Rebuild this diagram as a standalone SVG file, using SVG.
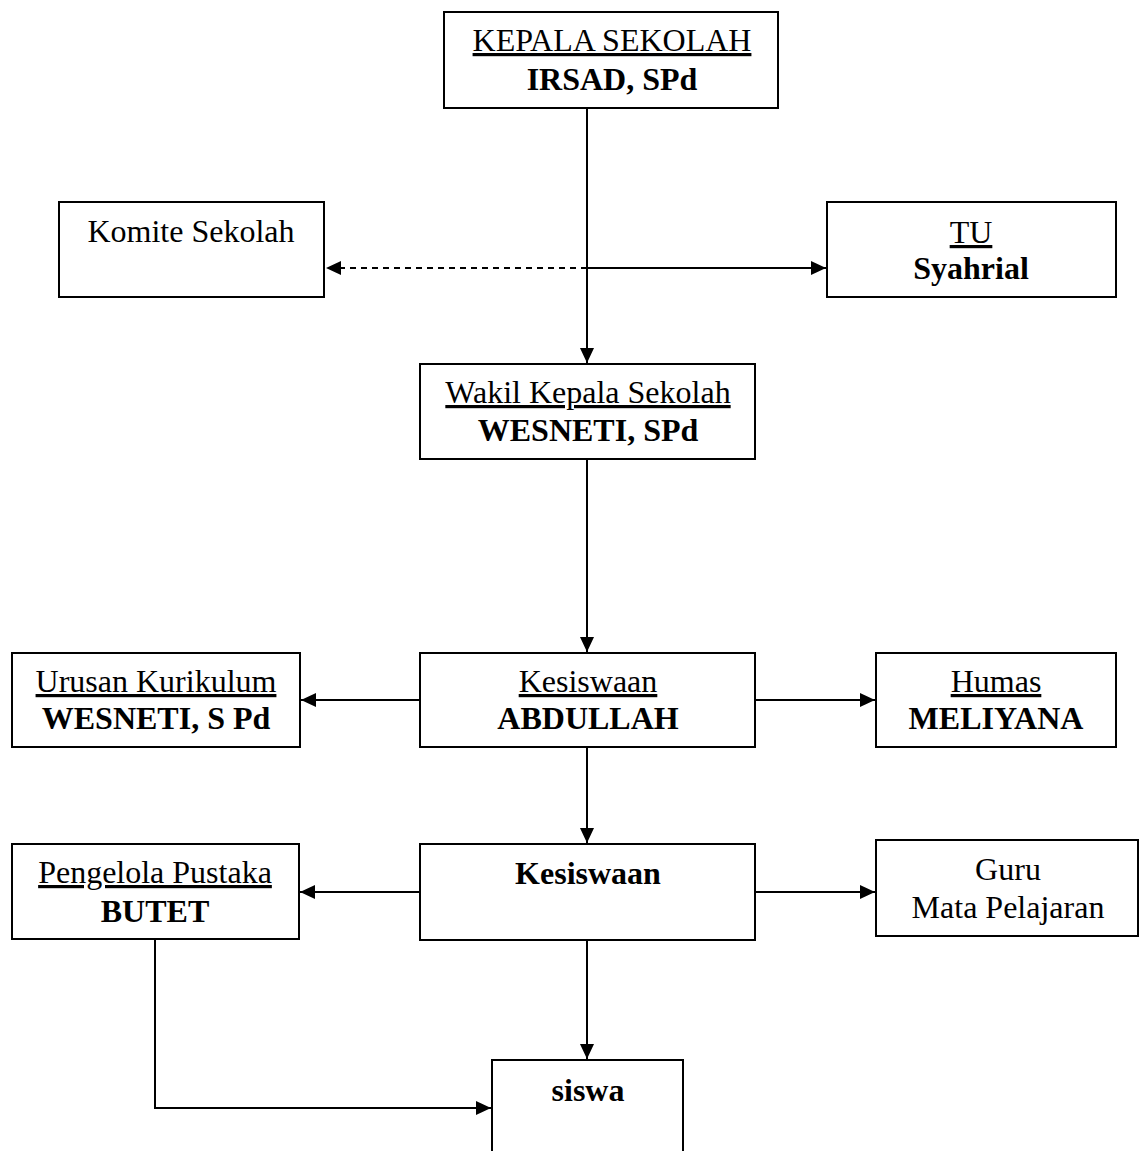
<svg xmlns="http://www.w3.org/2000/svg" width="1140" height="1151" viewBox="0 0 1140 1151">
<style>
.box{fill:#fff;stroke:#000;stroke-width:2}
text{font-family:"Liberation Serif","Times New Roman",serif;font-size:32px;fill:#000;text-anchor:middle}
.u{text-decoration:underline}
.b{font-weight:bold}
.c{fill:none;stroke:#000;stroke-width:2}
.d{stroke-dasharray:6,5}
</style>
<defs>
<marker id="ah" markerUnits="userSpaceOnUse" markerWidth="16" markerHeight="16" refX="15" refY="7" orient="auto">
<path d="M0,0 L15,7 L0,14 z" fill="#000"/>
</marker>
</defs>
<rect width="1140" height="1151" fill="#fff"/>
<g id="connectors">
<path class="c" d="M587,108 V363" marker-end="url(#ah)"/>
<path class="c d" d="M587,268 H326" marker-end="url(#ah)"/>
<path class="c" d="M587,268 H826" marker-end="url(#ah)"/>
<path class="c" d="M587,459 V652" marker-end="url(#ah)"/>
<path class="c" d="M420,700 H301" marker-end="url(#ah)"/>
<path class="c" d="M755,700 H875" marker-end="url(#ah)"/>
<path class="c" d="M587,747 V843" marker-end="url(#ah)"/>
<path class="c" d="M420,892 H300" marker-end="url(#ah)"/>
<path class="c" d="M755,892 H875" marker-end="url(#ah)"/>
<path class="c" d="M587,940 V1059" marker-end="url(#ah)"/>
<path class="c" d="M155,939 V1108 H491" marker-end="url(#ah)"/>
</g>
<g id="kepala">
<rect class="box" x="444" y="12" width="334" height="96"/>
<text class="u" x="612" y="51">KEPALA SEKOLAH</text>
<text class="b" x="612" y="90">IRSAD, SPd</text>
</g>
<g id="komite">
<rect class="box" x="59" y="202" width="265" height="95"/>
<text x="191" y="242">Komite Sekolah</text>
</g>
<g id="tu">
<rect class="box" x="827" y="202" width="289" height="95"/>
<text class="u" x="971" y="243">TU</text>
<text class="b" x="971" y="279">Syahrial</text>
</g>
<g id="wakil">
<rect class="box" x="420" y="364" width="335" height="95"/>
<text class="u" x="588" y="403">Wakil Kepala Sekolah</text>
<text class="b" x="588" y="441">WESNETI, SPd</text>
</g>
<g id="kesiswaan1">
<rect class="box" x="420" y="653" width="335" height="94"/>
<text class="u" x="588" y="692">Kesiswaan</text>
<text class="b" x="588" y="729">ABDULLAH</text>
</g>
<g id="urusan">
<rect class="box" x="12" y="653" width="288" height="94"/>
<text class="u" x="156" y="692">Urusan Kurikulum</text>
<text class="b" x="156" y="729">WESNETI, S Pd</text>
</g>
<g id="humas">
<rect class="box" x="876" y="653" width="240" height="94"/>
<text class="u" x="996" y="692">Humas</text>
<text class="b" x="996" y="729">MELIYANA</text>
</g>
<g id="kesiswaan2">
<rect class="box" x="420" y="844" width="335" height="96"/>
<text class="b" x="588" y="884">Kesiswaan</text>
</g>
<g id="pengelola">
<rect class="box" x="12" y="844" width="287" height="95"/>
<text class="u" x="155" y="883">Pengelola Pustaka</text>
<text class="b" x="155" y="922">BUTET</text>
</g>
<g id="guru">
<rect class="box" x="876" y="840" width="262" height="96"/>
<text x="1008" y="880">Guru</text>
<text x="1008" y="918">Mata Pelajaran</text>
</g>
<g id="siswa">
<path class="box" d="M492,1152 V1060 H683 V1152"/>
<text class="b" x="588" y="1101">siswa</text>
</g>
</svg>
